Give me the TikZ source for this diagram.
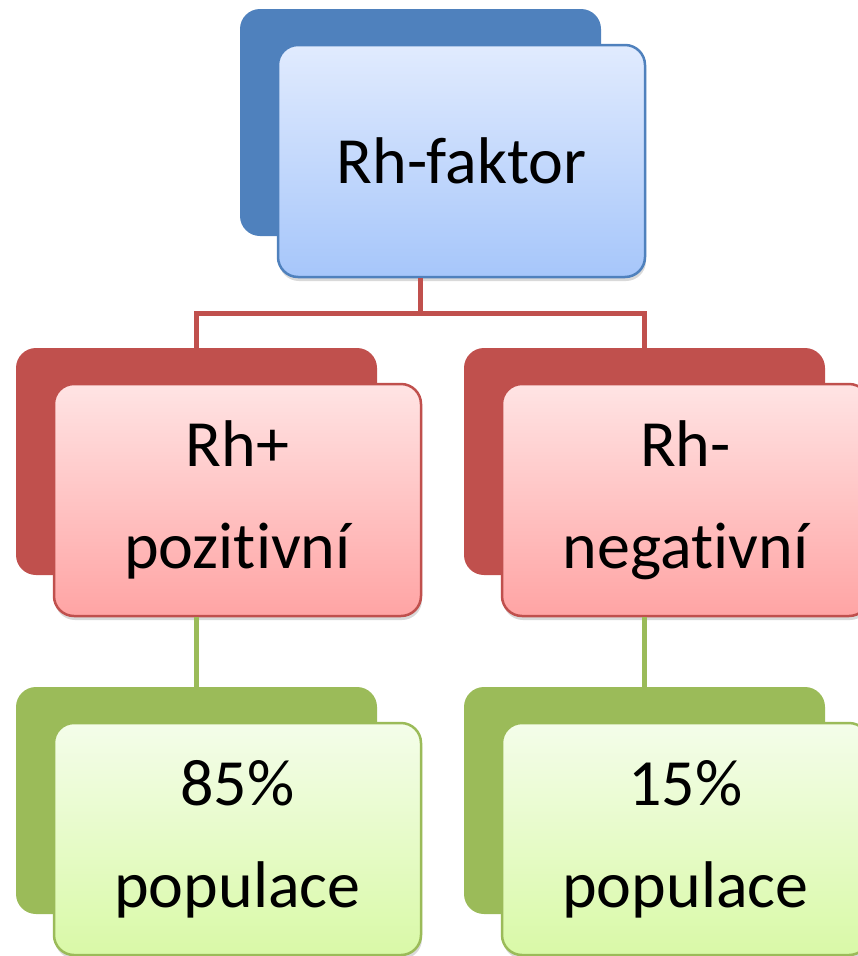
\documentclass[tikz,border=0pt]{standalone}
\usepackage{fontspec}
\setmainfont{Carlito}[Ligatures={NoCommon,NoContextual,NoRare}]
\usetikzlibrary{shadows}

\definecolor{blueback}{HTML}{4F81BD}
\definecolor{bluetop}{HTML}{E1EBFE}
\definecolor{bluebot}{HTML}{A6C6FA}
\definecolor{redback}{HTML}{C0504D}
\definecolor{redtop}{HTML}{FFE4E4}
\definecolor{redbot}{HTML}{FFA4A4}
\definecolor{greenback}{HTML}{9BBB59}
\definecolor{greentop}{HTML}{F4FDEA}
\definecolor{greenbot}{HTML}{D9F9A7}

\tikzset{
  back/.style={fill=#1, rounded corners=20pt, minimum width=361pt,
    minimum height=227pt, inner sep=0pt},
  front/.style n args={3}{draw=#1, line width=2.5pt, top color=#2, bottom color=#3,
    rounded corners=20pt, minimum width=367pt, minimum height=232pt,
    inner sep=0pt, align=center, font=\fontsize{66}{102}\selectfont,
    drop shadow={shadow xshift=1pt, shadow yshift=-4pt, opacity=0.3}},
  connector/.style={draw=#1, line width=5.5pt}
}

\begin{document}
\begin{tikzpicture}[x=1pt,y=-1pt]
\clip (0,0) rectangle (858,956);
%
\node[back=blueback](rhback) at (420.5,122.5) {};
\node[front={blueback}{bluetop}{bluebot}](rh) at (461.5,161) {Rh-faktor};
%
\node[back=redback](posback) at (196.5,461.5) {};
\node[back=redback](negback) at (644.5,461.5) {};
\draw[connector=redback](rhback.south |- rh.south) -- ++(0,35) -| (posback.north);
\draw[connector=redback](rhback.south |- rh.south) -- ++(0,35) -| (negback.north);
%
\node[front={redback}{redtop}{redbot}](pos) at (237.5,500) {Rh+\\pozit\kern0pt ivní};
\node[front={redback}{redtop}{redbot}](neg) at (685.5,500) {Rh-\\negat\kern0pt ivní};
%
\node[back=greenback](popposback) at (196.5,800.5) {};
\node[back=greenback](popnegback) at (644.5,800.5) {};
\draw[connector=greenback](posback.south |- pos.south) -- (popposback.north);
\draw[connector=greenback](negback.south |- neg.south) -- (popnegback.north);
%
\node[front={greenback}{greentop}{greenbot}](poppos) at (237.5,839) {85\%\\populace};
\node[front={greenback}{greentop}{greenbot}](popneg) at (685.5,839) {15\%\\populace};
\end{tikzpicture}
\end{document}
